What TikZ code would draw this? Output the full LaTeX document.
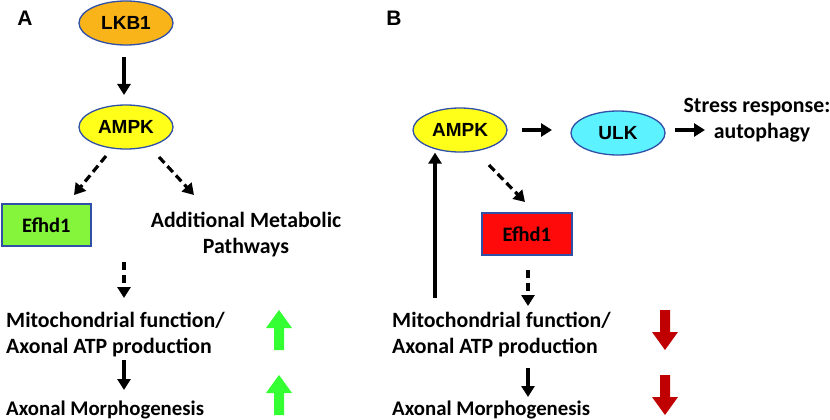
\documentclass[tikz,border=0pt]{standalone}
\usepackage{fontspec}
\setmainfont{Carlito}
\newfontfamily\arialf{Liberation Sans}
\usetikzlibrary{shapes.geometric,arrows.meta}
\definecolor{borderblue}{HTML}{3050A8}
\definecolor{lkborange}{HTML}{F8B418}
\definecolor{ampkyellow}{HTML}{FFFF1A}
\definecolor{ulkcyan}{HTML}{5CF2FF}
\definecolor{efgreen}{HTML}{84F53A}
\definecolor{efred}{HTML}{FF0A0A}
\definecolor{upgreen}{HTML}{33FF33}
\definecolor{downred}{HTML}{C00000}
\tikzset{
  oval/.style={ellipse, draw=borderblue, line width=1.3pt, minimum width=94pt, minimum height=44pt, inner sep=0pt, font=\arialf\bfseries\fontsize{19}{22}\selectfont},
  efbox/.style={rectangle, draw=borderblue, line width=1.6pt, minimum width=89pt, minimum height=42pt, inner sep=0pt, font=\bfseries\fontsize{20.5}{22}\selectfont},
  lbl/.style={font=\bfseries\fontsize{21.8}{26}\selectfont, inner sep=0pt},
  lblm/.style={font=\bfseries\fontsize{20.8}{26}\selectfont, inner sep=0pt},
  panel/.style={font=\arialf\bfseries\fontsize{21}{24}\selectfont, inner sep=0pt},
  arr/.style={line width=3.2pt, -{Triangle[length=11pt,width=13pt]}},
  darr/.style={arr, dash pattern=on 8pt off 4.5pt},
  bigup/.style={fill=upgreen, draw=none},
  bigdown/.style={fill=downred, draw=none}
}
\begin{document}
\begin{tikzpicture}[x=1pt,y=-1pt]
\useasboundingbox (0,0) rectangle (830,420);
\fill[white] (0,0) rectangle (830,420);
% Panel A
\node[panel] (pa) at (25,18) {A};
\node[oval, fill=lkborange] (lkb) at (126,23) {LKB1};
\node[oval, fill=ampkyellow] (ampka) at (126,127) {AMPK};
\node[efbox, fill=efgreen, anchor=north west] (efa) at (1,203) {Efhd1};
\node[lbl, align=center] (amp) at (246,235) {Additional Metabolic\\Pathways};
\node[lbl, align=left, anchor=west] (mita) at (6,335) {Mitochondrial function/\\Axonal ATP production};
\node[lblm, anchor=west] (morpha) at (6,410) {Axonal Morphogenesis};
\draw[arr] (124,57) -- (124,95);
\draw[darr] (106,156) -- (74,195);
\draw[darr] (159,157) -- (194,195);
\draw[darr] (124,262) -- (124,298);
\draw[arr] (124,360) -- (124,390);
% green arrows
\foreach \y in {310,375}{
  \fill[bigup] (279,\y) -- (292,\y+18) -- (284,\y+18) -- (284,\y+40) -- (274,\y+40) -- (274,\y+18) -- (266,\y+18) -- cycle;
}
% Panel B
\node[panel] (pb) at (394,18) {B};
\node[oval, fill=ampkyellow] (ampkb) at (460,130) {AMPK};
\node[oval, fill=ulkcyan] (ulk) at (618,133) {ULK};
\node[lbl, align=center] (stress) at (757,120) {Stress response:\\\hspace*{10pt}autophagy};
\node[efbox, fill=efred, minimum width=90pt, anchor=north west] (efb) at (481,212) {Efhd1};
\node[lbl, align=left, anchor=west] (mitb) at (392,335) {Mitochondrial function/\\Axonal ATP production};
\node[lblm, anchor=west] (morphb) at (392,410) {Axonal Morphogenesis};
\coordinate (fb) at (435,298);
\draw[arr] (522,130) -- (552,130);
\draw[arr] (675,130) -- (705,130);
\draw[darr] (489,165) -- (525,202);
\draw[arr] (fb) -- (fb |- ampkb.south);
\draw[darr] (528,270) -- (528,306);
\draw[arr] (528,368) -- (528,397);
\foreach \y in {310,375}{
  \fill[bigdown] (665,\y+40) -- (652,\y+22) -- (660,\y+22) -- (660,\y) -- (670,\y) -- (670,\y+22) -- (678,\y+22) -- cycle;
}
\end{tikzpicture}
\end{document}
